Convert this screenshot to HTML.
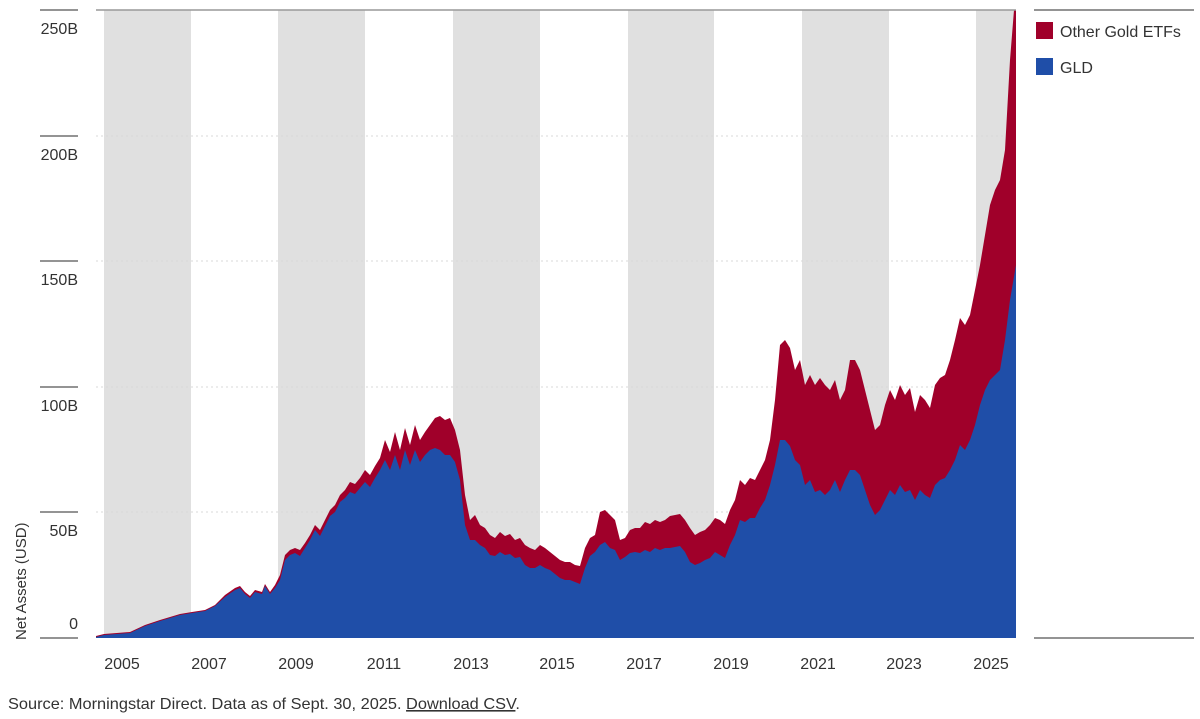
<!DOCTYPE html>
<html><head><meta charset="utf-8">
<style>
html,body{margin:0;padding:0;background:#fff;}
svg{display:block;}
text{font-family:"Liberation Sans Narrow","Liberation Sans",sans-serif;fill:#333;}
</style></head>
<body>
<svg width="1200" height="719" viewBox="0 0 1200 719">
<g fill="#e0e0e0">
<rect x="104" y="10" width="87" height="628"/>
<rect x="278" y="10" width="87" height="628"/>
<rect x="453" y="10" width="87" height="628"/>
<rect x="628" y="10" width="86" height="628"/>
<rect x="802" y="10" width="87" height="628"/>
<rect x="976" y="10" width="40" height="628"/>
</g>
<g stroke="#d8d8d8" stroke-width="1" stroke-dasharray="2,3">
<line x1="96" y1="136" x2="1016" y2="136"/>
<line x1="96" y1="261" x2="1016" y2="261"/>
<line x1="96" y1="387" x2="1016" y2="387"/>
<line x1="96" y1="512" x2="1016" y2="512"/>
</g>
<polygon fill="#a0002a" points="96,638 96,636 104,634 130,632 145,625 160,620 180,614 192,612 205,610 215,605 225,595 235,588 240,586 245,592 250,596 255,590 262,592 265,584 270,592 275,585 280,575 285,555 290,550 295,548 300,550 305,543 310,535 315,525 320,530 325,520 330,510 335,505 340,495 345,490 350,482 355,484 360,478 365,470 370,475 375,466 380,458 385,440 390,452 395,432 400,450 405,428 410,445 415,425 420,440 425,432 430,425 435,418 440,416 445,420 450,418 455,430 460,450 465,495 470,520 475,515 480,525 485,528 490,535 495,538 500,532 505,536 510,534 515,540 520,538 525,545 530,548 535,550 540,545 545,548 550,552 555,556 560,560 565,562 570,562 575,565 580,566 585,548 590,538 595,535 600,512 605,510 610,515 615,520 620,540 625,538 630,530 635,528 640,528 645,522 650,524 655,520 660,522 665,520 670,516 675,515 680,514 685,520 690,528 695,535 700,532 705,530 710,525 715,518 720,520 725,524 730,510 735,500 740,480 745,485 750,478 755,480 760,470 765,460 770,440 775,400 780,345 785,340 790,348 795,370 800,360 805,385 810,375 815,385 820,378 825,385 830,390 835,380 840,400 845,390 850,360 855,360 860,370 865,390 870,410 875,430 880,425 885,405 890,390 895,400 900,385 905,395 910,388 915,412 920,395 925,400 930,408 935,385 940,378 945,375 950,360 955,340 960,318 965,325 970,315 975,290 980,265 985,235 990,205 995,190 1000,180 1005,150 1010,60 1014,10 1016,10 1016,638"/>
<polygon fill="#1f4ea8" points="96,638 96,637 104,635 130,633 145,626 160,621 180,615 192,613 205,611 215,606 225,597 235,590 240,588 245,594 250,598 255,592 262,594 265,586 270,594 275,588 280,580 285,560 290,555 295,553 300,556 305,548 310,540 315,530 320,536 325,526 330,516 335,512 340,502 345,498 350,492 355,494 360,488 365,482 370,487 375,478 380,470 385,460 390,470 395,455 400,470 405,450 410,465 415,450 420,462 425,455 430,450 435,448 440,450 445,455 450,455 455,462 460,480 465,525 470,540 475,540 480,545 485,548 490,555 495,556 500,552 505,555 510,554 515,558 520,557 525,565 530,568 535,568 540,565 545,568 550,570 555,574 560,578 565,580 570,580 575,582 580,584 585,568 590,556 595,552 600,545 605,542 610,548 615,550 620,560 625,557 630,553 635,552 640,553 645,550 650,552 655,548 660,550 665,548 670,548 675,547 680,546 685,552 690,562 695,565 700,563 705,560 710,558 715,552 720,555 725,558 730,545 735,535 740,520 745,522 750,518 755,518 760,508 765,500 770,485 775,465 780,440 785,440 790,446 795,460 800,465 805,485 810,480 815,492 820,490 825,495 830,490 835,480 840,492 845,480 850,470 855,470 860,475 865,490 870,505 875,515 880,510 885,500 890,490 895,495 900,485 905,492 910,490 915,500 920,490 925,495 930,498 935,485 940,480 945,478 950,470 955,460 960,445 965,450 970,440 975,425 980,405 985,390 990,380 995,375 1000,370 1005,340 1010,300 1016,265 1016,638"/>
<line x1="96" y1="10" x2="1016" y2="10" stroke="#999" stroke-width="1.5"/>
<g stroke="#555" stroke-width="1.2">
<line x1="40" y1="10" x2="78" y2="10"/>
<line x1="40" y1="136" x2="78" y2="136"/>
<line x1="40" y1="261" x2="78" y2="261"/>
<line x1="40" y1="387" x2="78" y2="387"/>
<line x1="40" y1="512" x2="78" y2="512"/>
<line x1="40" y1="638" x2="78" y2="638"/>
<line x1="1034" y1="10" x2="1194" y2="10"/>
<line x1="1034" y1="638" x2="1194" y2="638"/>
</g>
<g font-size="16" text-anchor="end">
<text x="78" y="34">250B</text>
<text x="78" y="160">200B</text>
<text x="78" y="285">150B</text>
<text x="78" y="411">100B</text>
<text x="78" y="536">50B</text>
<text x="78" y="629">0</text>
</g>
<text font-size="15" transform="translate(26,640) rotate(-90)">Net Assets (USD)</text>
<g font-size="16" text-anchor="middle">
<text x="122" y="669">2005</text>
<text x="209" y="669">2007</text>
<text x="296" y="669">2009</text>
<text x="384" y="669">2011</text>
<text x="471" y="669">2013</text>
<text x="557" y="669">2015</text>
<text x="644" y="669">2017</text>
<text x="731" y="669">2019</text>
<text x="818" y="669">2021</text>
<text x="904" y="669">2023</text>
<text x="991" y="669">2025</text>
</g>
<rect x="1036" y="22" width="17" height="17" fill="#a0002a"/>
<text x="1060" y="37" font-size="16">Other Gold ETFs</text>
<rect x="1036" y="58" width="17" height="17" fill="#1f4ea8"/>
<text x="1060" y="73" font-size="16">GLD</text>
<text x="8" y="709" font-size="16" fill="#444" textLength="512" lengthAdjust="spacingAndGlyphs">Source: Morningstar Direct. Data as of Sept. 30, 2025. <tspan text-decoration="underline">Download CSV</tspan>.</text>
</svg>
</body></html>
